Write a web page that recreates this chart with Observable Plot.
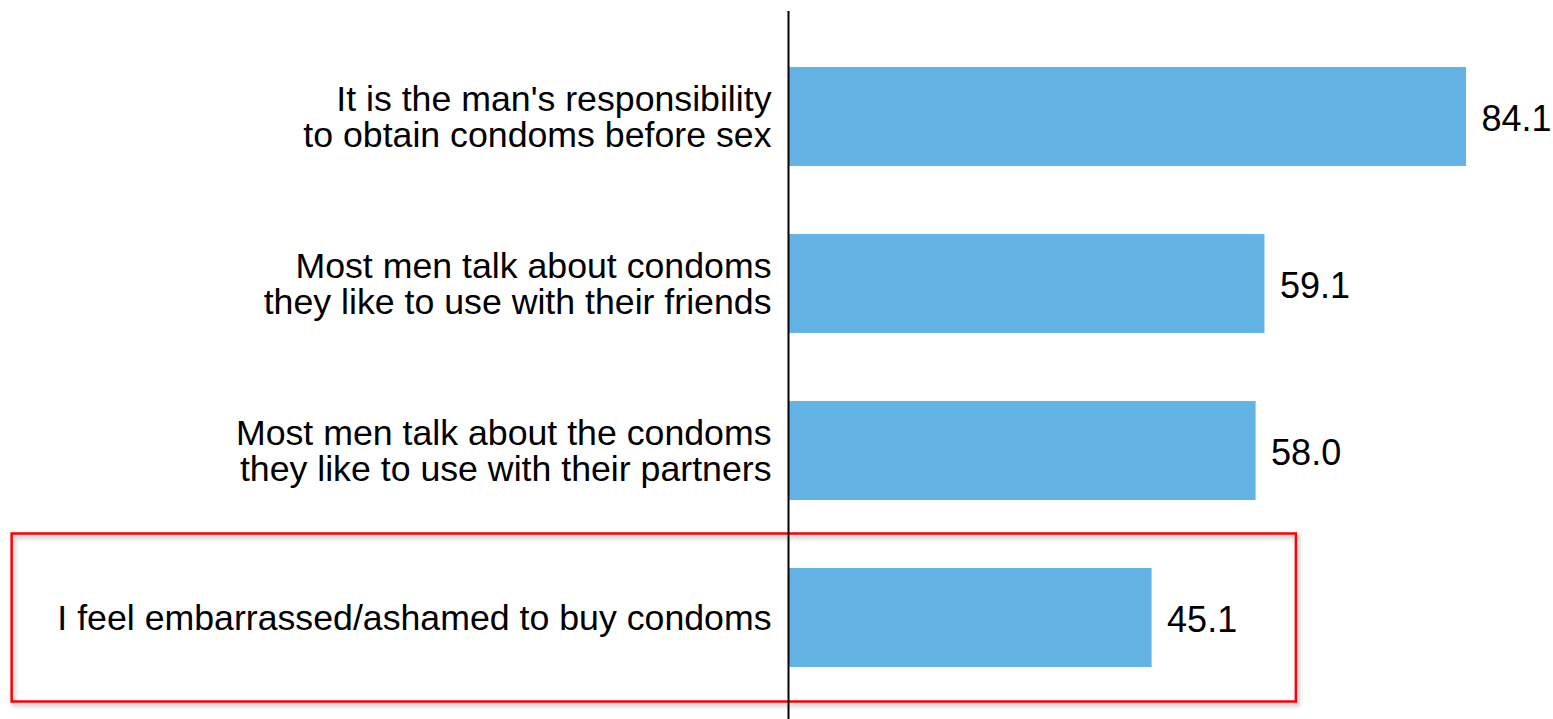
<!DOCTYPE html>
<html>
<head>
<meta charset="utf-8">
<script src="https://cdn.jsdelivr.net/npm/d3@7"></script>
<script src="https://cdn.jsdelivr.net/npm/@observablehq/plot@0.6"></script>
<style>
  html, body { margin: 0; padding: 0; background: #fff; }
  #chart svg { display: block; font-family: "Liberation Sans", Arial, sans-serif; }
</style>
</head>
<body>
<div id="chart"></div>
<script>
const categories = [
  "It is the man's responsibility\nto obtain condoms before sex",
  "Most men talk about condoms\nthey like to use with their friends",
  "Most men talk about the condoms\nthey like to use with their partners",
  "I feel embarrassed/ashamed to buy condoms"
];
const values = [84.1, 59.1, 58.0, 45.1];
const valueLabels = ["84.1", "59.1", "58.0", "45.1"];
const highlighted = ["I feel embarrassed/ashamed to buy condoms"];
const highlightExtent = [-96.3, 63.0];

const data = categories.map((c, i) => ({category: c, value: values[i], label: valueLabels[i]}));
const hl = highlighted.map(c => ({category: c, x1: highlightExtent[0], x2: highlightExtent[1]}));

const chart = Plot.plot({
  width: 1553,
  height: 719,
  marginLeft: 788,
  marginRight: 87,
  marginTop: 11,
  marginBottom: 0,
  style: {fontFamily: "'Liberation Sans', Arial, sans-serif", color: "#000", background: "#fff"},
  x: {domain: [0, 84.1], axis: null},
  y: {domain: categories, paddingInner: 0.41, paddingOuter: 0.321, align: 0.52, label: null},
  marks: [
    Plot.barX(hl, {y: "category", x1: "x1", x2: "x2", fill: "none", stroke: "#ff0000", strokeWidth: 2.5, insetTop: -34.5, insetBottom: -34.5}),
    Plot.barX(data, {y: "category", x: "value", fill: "#63b4e4"}),
    Plot.ruleX([0], {stroke: "#000", strokeWidth: 2}),
    Plot.text(data, {y: "category", x: "value", text: "label", textAnchor: "start", dx: 15, dy: 2, fontSize: 36, fill: "#000"}),
    Plot.axisY({tickSize: 0, tickPadding: 17, fontSize: 35.7, lineHeight: 1.01, fill: "#000", label: null})
  ]
});
d3.select(chart).selectAll("rect[stroke='#ff0000'], g[stroke='#ff0000'] rect")
  .style("filter", "drop-shadow(2px 3px 2px rgba(0,0,0,0.3))");
document.getElementById("chart").appendChild(chart);
</script>
</body>
</html>
